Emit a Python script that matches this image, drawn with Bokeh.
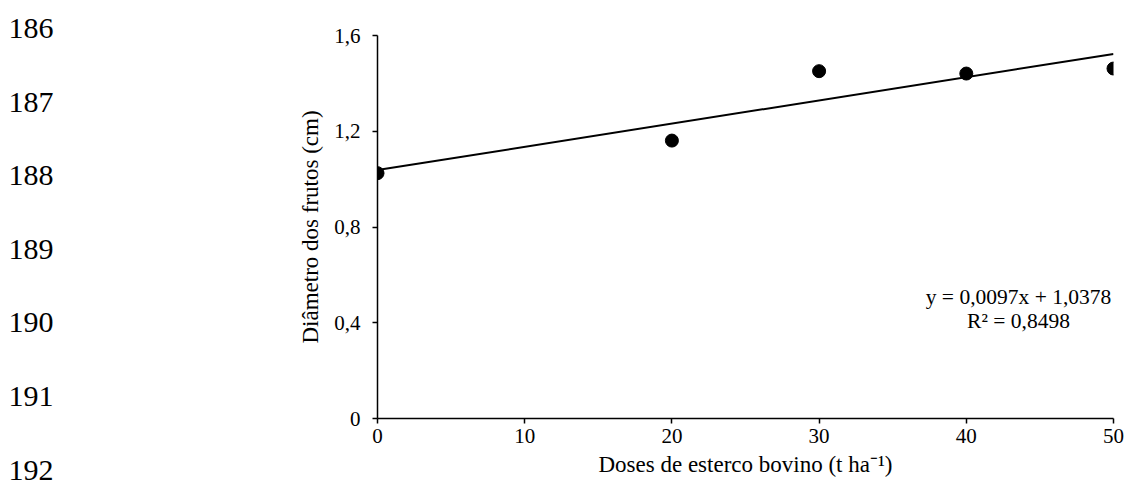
from bokeh.plotting import figure
from bokeh.models import Range1d, FixedTicker, Label, ColumnDataSource
from bokeh.layouts import row
from bokeh.embed import file_html
from bokeh.resources import INLINE
from bokeh.core.properties import value

# ---- data ----
doses = [0, 20, 30, 40, 50]
diametro = [1.025, 1.161, 1.451, 1.441, 1.462]
slope = 0.0097
intercept = 1.0378
x_ticks = [0, 10, 20, 30, 40, 50]
y_ticks = [0, 0.4, 0.8, 1.2, 1.6]
y_tick_labels = ["0", "0,4", "0,8", "1,2", "1,6"]
line_numbers = ["186", "187", "188", "189", "190", "191", "192"]
equation_lines = ["y = 0,0097x + 1,0378", "R\u00b2 = 0,8498"]
x_label = "Doses de esterco bovino (t ha\u207b\u00b9)"
y_label = "Di\u00e2metro dos frutos (cm)"

FONT = "Liberation Serif"
W, H = 1127, 489
LEFT_W = 280
BL, BR, BT, BB = 377 - LEFT_W, 14, 35, 71
X0, X1, Y0, Y1 = 0, 50, 0, 1.6

# ---- left column: page line numbers ----
left = figure(width=LEFT_W, height=H, x_range=Range1d(0, LEFT_W), y_range=Range1d(H, 0),
              output_backend="svg", toolbar_location=None, min_border=0,
              x_axis_location=None, y_axis_location=None)
left.grid.visible = False
left.outline_line_color = None
left.frame_align = False
n = len(line_numbers)
num_src = ColumnDataSource(dict(x=[8] * n, y=[28 + i * 73.6 for i in range(n)], t=line_numbers))
left.text(x="x", y="y", text="t", source=num_src, text_font=value(FONT),
          text_font_size="30px", text_align="left", text_baseline="middle",
          text_color="black")

# ---- main chart ----
p = figure(width=W - LEFT_W, height=H, x_range=Range1d(X0, X1), y_range=Range1d(Y0, Y1),
           output_backend="svg", toolbar_location=None,
           min_border_left=BL, min_border_right=BR, min_border_top=BT, min_border_bottom=BB)
p.frame_align = False
p.grid.visible = False
p.outline_line_color = None
p.background_fill_color = "white"
p.border_fill_color = "white"

fit_x = [min(doses), max(doses)]
fit_y = [slope * v + intercept for v in fit_x]
p.line(fit_x, fit_y, line_color="black", line_width=2)
src = ColumnDataSource(dict(x=doses, y=diametro))
p.scatter("x", "y", source=src, size=13, fill_color="black", line_color="black")

p.xaxis.ticker = FixedTicker(ticks=x_ticks)
p.yaxis.ticker = FixedTicker(ticks=y_ticks)
p.yaxis.major_label_overrides = {t: l for t, l in zip(y_ticks, y_tick_labels)}
for ax in (p.xaxis, p.yaxis):
    ax.minor_tick_line_color = None
    ax.major_tick_in = 0
    ax.major_tick_out = 5
    ax.axis_line_width = 1.5
    ax.major_tick_line_width = 1.5
    ax.axis_line_color = "black"
    ax.major_tick_line_color = "black"
    ax.major_label_text_font = FONT
    ax.major_label_text_font_size = "21px"
    ax.major_label_text_color = "black"
    ax.axis_label_text_font = FONT
    ax.axis_label_text_font_size = "23px"
    ax.axis_label_text_font_style = "normal"
    ax.axis_label_text_color = "black"
p.xaxis.axis_label = x_label
p.yaxis.axis_label = y_label
p.yaxis.major_label_standoff = 12
p.xaxis.major_label_standoff = 5
p.xaxis.axis_label_standoff = 6
p.yaxis.axis_label_standoff = 8

# regression equation (placed in pixel terms of the frame)
FW, FH = W - LEFT_W - BL - BR, H - BT - BB
for i, t in enumerate(equation_lines):
    p.add_layout(Label(x=X0 + (1018 - 377) / FW * (X1 - X0),
                       y=Y0 + (H - BB - (296 + i * 24)) / FH * (Y1 - Y0),
                       text=t, text_font=FONT, text_font_size="21.5px",
                       text_align="center", text_baseline="middle", text_color="black"))

layout = row(left, p, spacing=0)
open("out.html", "w").write(file_html(layout, INLINE))
